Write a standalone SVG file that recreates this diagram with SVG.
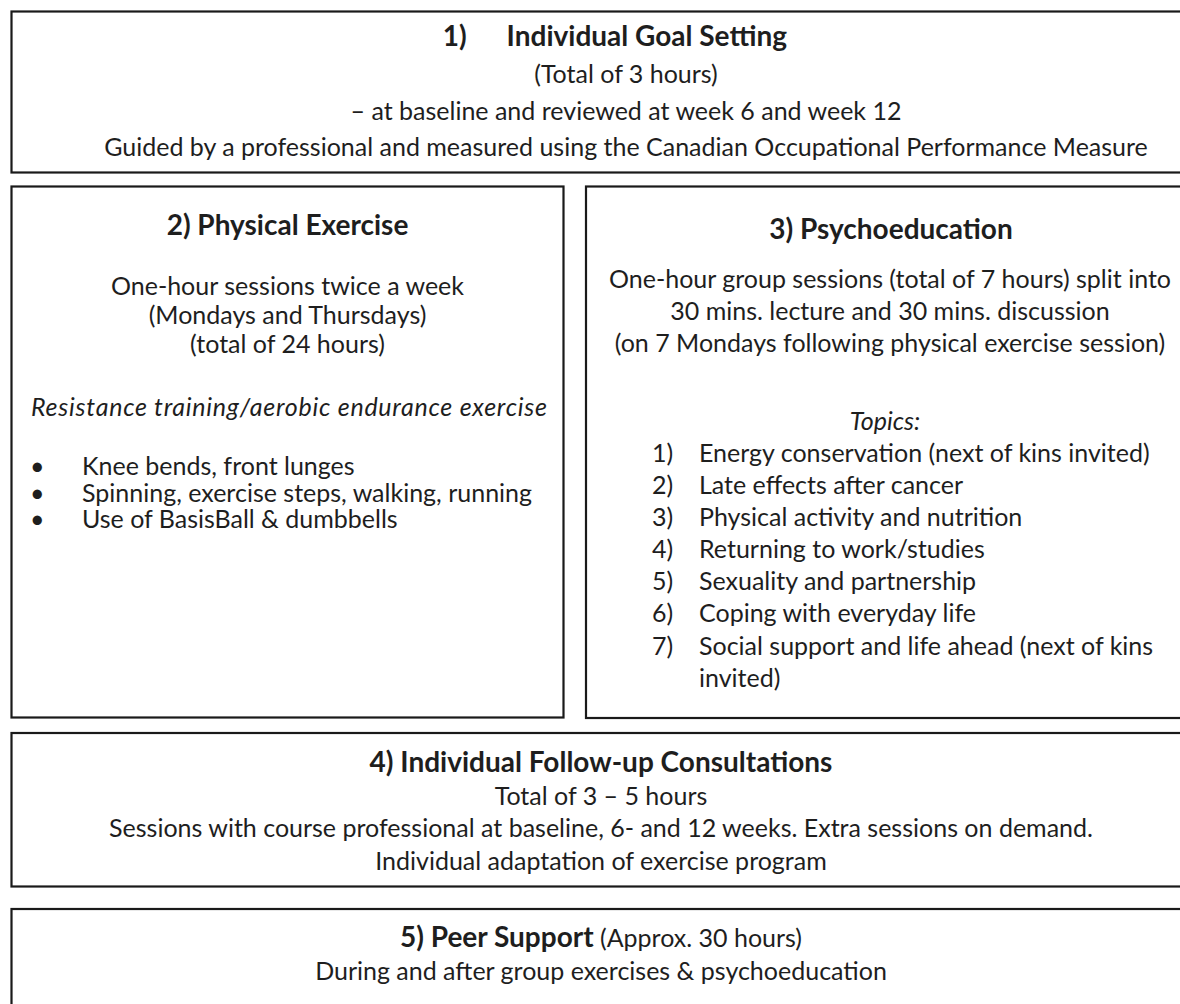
<svg xmlns="http://www.w3.org/2000/svg" width="1180" height="1004" viewBox="0 0 1180 1004">
<style>
.box{fill:#ffffff;stroke:#1a1a1a;stroke-width:2.2}
text{font-family:Lato,"Open Sans","Liberation Sans",sans-serif;font-size:25px;fill:#1e1e1e}
.c{text-anchor:middle}
.e{text-anchor:end}
.b{font-weight:bold;font-size:28px}
.i{font-style:italic}
</style>
<rect x="0" y="0" width="1180" height="1004" fill="#ffffff"/>
<g id="connectors"></g>
<g id="node1">
<rect class="box" x="11.5" y="11.5" width="1230" height="161"/>
<text class="e b" x="787" y="46">1)<tspan dx="40">Individual Goal Setting</tspan></text>
<text class="c" x="626" y="83">(Total of 3 hours)</text>
<text class="c" x="626" y="120">– at baseline and reviewed at week 6 and week 12</text>
<text class="c" x="626" y="156">Guided by a professional and measured using the Canadian Occupational Performance Measure</text>
</g>
<g id="node2">
<rect class="box" x="11.5" y="186.5" width="552" height="531"/>
<text class="c b" x="287.5" y="235">2) Physical Exercise</text>
<text class="c" x="287.5" y="295">One-hour sessions twice a week</text>
<text class="c" x="287.5" y="324">(Mondays and Thursdays)</text>
<text class="c" x="287.5" y="353">(total of 24 hours)</text>
<text class="c i" x="289" y="416" textLength="516">Resistance training/aerobic endurance exercise</text>
<text x="30" y="475">•</text><text x="82" y="475">Knee bends, front lunges</text>
<text x="30" y="502">•</text><text x="82" y="502">Spinning, exercise steps, walking, running</text>
<text x="30" y="528">•</text><text x="82" y="528">Use of BasisBall &amp; dumbbells</text>
</g>
<g id="node3">
<rect class="box" x="586" y="186.5" width="610" height="531.5"/>
<text class="c b" x="891" y="239">3) Psychoeducation</text>
<text class="c" x="890" y="288">One-hour group sessions (total of 7 hours) split into</text>
<text class="c" x="890" y="320">30 mins. lecture and 30 mins. discussion</text>
<text class="c" x="890" y="352">(on 7 Mondays following physical exercise session)</text>
<text class="c i" x="885" y="430">Topics:</text>
<text x="652" y="462">1)</text><text x="699" y="462">Energy conservation (next of kins invited)</text>
<text x="652" y="494">2)</text><text x="699" y="494">Late effects after cancer</text>
<text x="652" y="526">3)</text><text x="699" y="526">Physical activity and nutrition</text>
<text x="652" y="558">4)</text><text x="699" y="558">Returning to work/studies</text>
<text x="652" y="590">5)</text><text x="699" y="590">Sexuality and partnership</text>
<text x="652" y="622">6)</text><text x="699" y="622">Coping with everyday life</text>
<text x="652" y="655">7)</text><text x="699" y="655">Social support and life ahead (next of kins</text>
<text x="699" y="687">invited)</text>
</g>
<g id="node4">
<rect class="box" x="11.5" y="733" width="1180" height="153.5"/>
<text class="c b" x="601" y="772">4) Individual Follow-up Consultations</text>
<text class="c" x="601" y="805">Total of 3 – 5 hours</text>
<text class="c" x="601" y="837">Sessions with course professional at baseline, 6- and 12 weeks. Extra sessions on demand.</text>
<text class="c" x="601" y="870">Individual adaptation of exercise program</text>
</g>
<g id="node5">
<rect class="box" x="11.5" y="909" width="1180" height="120"/>
<text class="c" x="601" y="947"><tspan class="b">5) Peer Support</tspan> (Approx. 30 hours)</text>
<text class="c" x="601" y="980">During and after group exercises &amp; psychoeducation</text>
</g>
</svg>
